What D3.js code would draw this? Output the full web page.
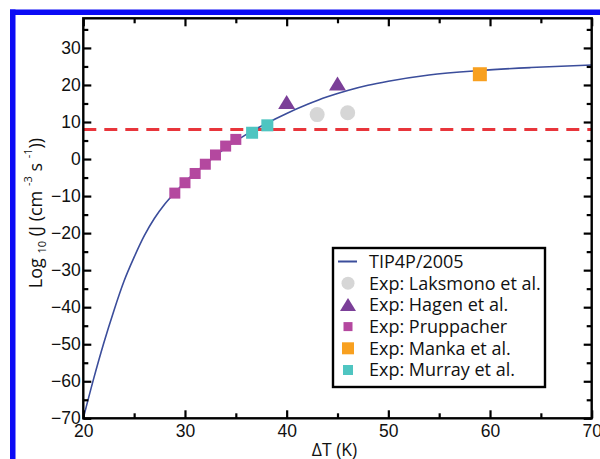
<!DOCTYPE html>
<html>
<head>
<meta charset="utf-8">
<script src="https://cdn.jsdelivr.net/npm/d3@7"></script>
<style>
  html, body { margin: 0; padding: 0; background: #fff; }
  svg { display: block; font-family: "Open Sans", "Noto Sans", sans-serif; }
</style>
</head>
<body>
<svg id="chart" width="600" height="459"></svg>
<script>
// TIP4P/2005 nucleation rate curve: ΔT (K) vs log10 J
const curveDT = [20, 21, 22, 23, 24, 25, 26, 27, 28, 29, 30, 32, 34, 36, 38, 40, 42, 44, 46, 48, 50, 54, 59, 64, 70];
const curveLogJ = [-70, -59.5, -49.8, -41, -33, -26.5, -20.7, -16.0, -12.2, -9.1, -6.2, -1.4, 3.0, 6.6, 9.6, 12.3, 14.7, 16.8, 18.5, 19.9, 21.0, 22.7, 23.9, 24.7, 25.4];

// Experimental data sets
const laksmonoDT = [43, 46];
const laksmonoLogJ = [12.0, 12.5];
const hagenDT = [40, 45];
const hagenLogJ = [15.0, 20.0];
const pruppacherDT = [29, 30, 31, 32, 33, 34, 35];
const pruppacherLogJ = [-9.2, -6.4, -3.9, -1.4, 1.1, 3.5, 5.3];
const mankaDT = [59];
const mankaLogJ = [22.9];
const murrayDT = [36.6, 38.1];
const murrayLogJ = [7.1, 9.1];

// Reference rate level (dashed line)
const refLogJ = 8;

const xTicks = [20, 30, 40, 50, 60, 70];
const yTicks = [-70, -60, -50, -40, -30, -20, -10, 0, 10, 20, 30];

const legendLabels = ["TIP4P/2005", "Exp: Laksmono et al.", "Exp: Hagen et al.",
  "Exp: Pruppacher", "Exp: Manka et al.", "Exp: Murray et al."];

const C = {
  curve: "#3b4d9b", dash: "#e8353b", laks: "#d6d6d6", hagen: "#7b3f98",
  prupp: "#b4489f", manka: "#f8a01f", murray: "#4fc5c1", frame: "#0b0bf5"
};

const svg = d3.select("#chart");
const L = 83.3, R = 591.7, T = 18.3, B = 418.3;

const x = d3.scaleLinear().domain([20, 70]).range([L, R]);
const y = d3.scaleLinear().domain([-70, 38]).range([B, T]);

// outer blue frame (top and left edges)
svg.append("rect").attr("x", 10).attr("y", 9.5).attr("width", 590).attr("height", 5.5).attr("fill", C.frame);
svg.append("rect").attr("x", 10).attr("y", 9.5).attr("width", 5.5).attr("height", 449.5).attr("fill", C.frame);

// clip for plot contents
svg.append("clipPath").attr("id", "clip")
  .append("rect").attr("x", L).attr("y", T).attr("width", R - L).attr("height", B - T);

const plot = svg.append("g").attr("clip-path", "url(#clip)");

// dashed reference line
plot.append("line")
  .attr("x1", L).attr("x2", R)
  .attr("y1", y(refLogJ)).attr("y2", y(refLogJ))
  .attr("stroke", C.dash).attr("stroke-width", 3)
  .attr("stroke-dasharray", "13,8");

// simulation curve
const curvePts = curveDT.map((d, i) => [d, curveLogJ[i]]);
plot.append("path")
  .datum(curvePts)
  .attr("fill", "none").attr("stroke", C.curve).attr("stroke-width", 1.6)
  .attr("d", d3.line().x(d => x(d[0])).y(d => y(d[1])).curve(d3.curveMonotoneX));

function squares(g, xs, ys, size, color) {
  g.selectAll(null).data(xs.map((d, i) => [d, ys[i]])).enter().append("rect")
    .attr("x", d => x(d[0]) - size / 2).attr("y", d => y(d[1]) - size / 2)
    .attr("width", size).attr("height", size).attr("fill", color);
}
function circles(g, xs, ys, r, color) {
  g.selectAll(null).data(xs.map((d, i) => [d, ys[i]])).enter().append("circle")
    .attr("cx", d => x(d[0])).attr("cy", d => y(d[1])).attr("r", r).attr("fill", color);
}
function triPath(cx, cy, w, h) {
  return `M${cx},${cy - h * 0.6}L${cx + w / 2},${cy + h * 0.4}L${cx - w / 2},${cy + h * 0.4}Z`;
}
function triangles(g, xs, ys, w, h, color) {
  g.selectAll(null).data(xs.map((d, i) => [d, ys[i]])).enter().append("path")
    .attr("d", d => triPath(x(d[0]), y(d[1]), w, h)).attr("fill", color);
}

squares(plot, pruppacherDT, pruppacherLogJ, 11, C.prupp);
squares(plot, murrayDT, murrayLogJ, 12, C.murray);
squares(plot, mankaDT, mankaLogJ, 14, C.manka);
circles(plot, laksmonoDT, laksmonoLogJ, 7.5, C.laks);
triangles(plot, hagenDT, hagenLogJ, 17, 14, C.hagen);

// axes with inward ticks on all four sides
const axisG = svg.append("g");
const xMinor = d3.range(25, 70, 10);
const yMinor = d3.range(-65, 38, 10);

function drawAxis(axis, tr) {
  const g = axisG.append("g").attr("transform", tr).call(axis);
  g.select(".domain").remove();
  g.selectAll(".tick line").attr("stroke", "#000").attr("stroke-width", 2.2);
  return g;
}
const tickFont = 17.5;
const textFont = 18;
// bottom
const xb = drawAxis(d3.axisBottom(x).tickValues(xTicks).tickSize(-8).tickPadding(0), `translate(0,${B})`);
xb.selectAll("text").attr("font-size", tickFont).attr("fill", "#111").attr("dy", "0.71em").attr("y", 6.5);
drawAxis(d3.axisBottom(x).tickValues(xMinor).tickSize(-5).tickFormat(""), `translate(0,${B})`);
// top
drawAxis(d3.axisTop(x).tickValues(xTicks).tickSize(-8).tickFormat(""), `translate(0,${T})`);
drawAxis(d3.axisTop(x).tickValues(xMinor).tickSize(-5).tickFormat(""), `translate(0,${T})`);
// left
const yl = drawAxis(d3.axisLeft(y).tickValues(yTicks).tickSize(-8).tickPadding(0), `translate(${L},0)`);
yl.selectAll("text").attr("font-size", tickFont).attr("fill", "#111").attr("x", -2.5);
drawAxis(d3.axisLeft(y).tickValues(yMinor).tickSize(-5).tickFormat(""), `translate(${L},0)`);
// right
drawAxis(d3.axisRight(y).tickValues(yTicks).tickSize(-8).tickFormat(""), `translate(${R},0)`);
drawAxis(d3.axisRight(y).tickValues(yMinor).tickSize(-5).tickFormat(""), `translate(${R},0)`);

// plot frame
svg.append("rect").attr("x", L).attr("y", T).attr("width", R - L).attr("height", B - T)
  .attr("fill", "none").attr("stroke", "#000").attr("stroke-width", 2.4);

// axis titles
svg.append("text").attr("x", (L + R) / 2 - 3).attr("y", 455.5)
  .attr("text-anchor", "middle").attr("font-size", tickFont).attr("fill", "#111")
  .text("ΔT (K)");

const yt = svg.append("text").attr("transform", "translate(42,213) rotate(-90)")
  .attr("text-anchor", "middle").attr("font-size", textFont).attr("fill", "#111");
yt.append("tspan").text("Log ");
yt.append("tspan").attr("font-size", 11).attr("dy", 4).text("10");
yt.append("tspan").attr("dy", -4).text(" (J (cm ");
yt.append("tspan").attr("font-size", 11).attr("dy", -10).text("-3");
yt.append("tspan").attr("dy", 10).text(" s ");
yt.append("tspan").attr("font-size", 11).attr("dy", -10).text("-1");
yt.append("tspan").attr("dy", 10).text("))");

// legend
const lg = svg.append("g");
lg.append("rect").attr("x", 333).attr("y", 248).attr("width", 212).attr("height", 139)
  .attr("fill", "#fff").attr("stroke", "#000").attr("stroke-width", 2.4);
const rowY = i => 261.5 + i * 21.7;
const symX = 348;
lg.append("line").attr("x1", 338).attr("x2", 357).attr("y1", rowY(0)).attr("y2", rowY(0))
  .attr("stroke", C.curve).attr("stroke-width", 2);
lg.append("circle").attr("cx", symX).attr("cy", rowY(1)).attr("r", 6.5).attr("fill", C.laks);
lg.append("path").attr("d", triPath(symX, rowY(2) + 1, 16, 13)).attr("fill", C.hagen);
lg.append("rect").attr("x", symX - 4.5).attr("y", rowY(3) - 4.5).attr("width", 9).attr("height", 9).attr("fill", C.prupp);
lg.append("rect").attr("x", symX - 6).attr("y", rowY(4) - 6).attr("width", 12).attr("height", 12).attr("fill", C.manka);
lg.append("rect").attr("x", symX - 5).attr("y", rowY(5) - 5).attr("width", 10).attr("height", 10).attr("fill", C.murray);
lg.selectAll("text.lab").data(legendLabels).enter().append("text")
  .attr("class", "lab")
  .attr("x", 369).attr("y", (d, i) => rowY(i)).attr("dy", "0.36em")
  .attr("font-size", textFont).attr("fill", "#111").text(d => d);
</script>
</body>
</html>
